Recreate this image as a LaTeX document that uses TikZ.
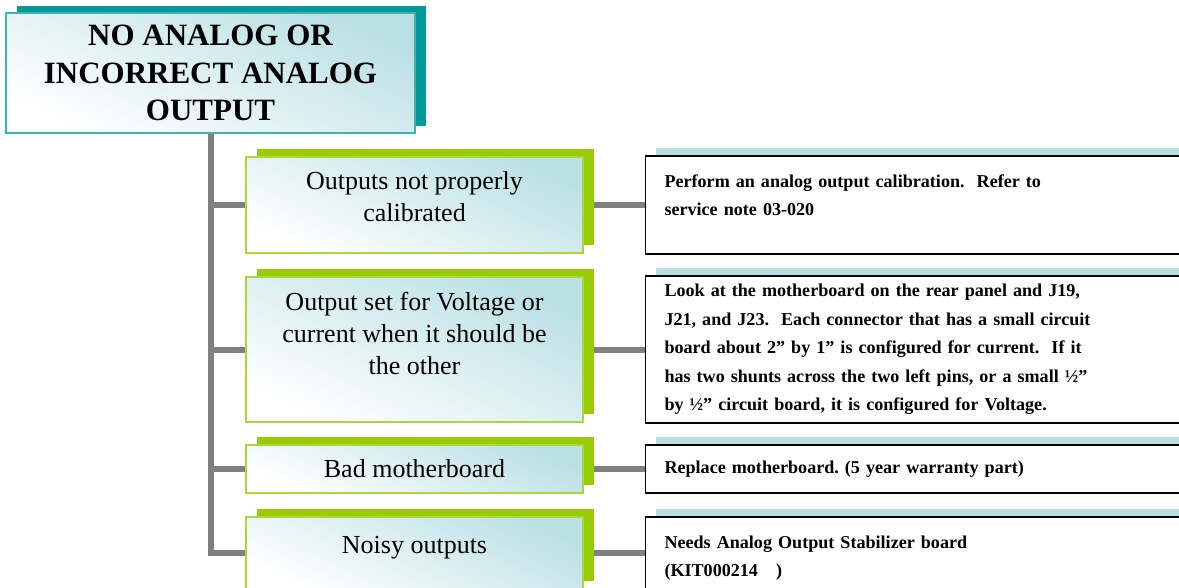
\documentclass[tikz,border=0pt]{standalone}
\usepackage{fontspec}
\setmainfont{Liberation Serif}
\usetikzlibrary{positioning,shadows,backgrounds}
\frenchspacing
\definecolor{headshadow}{RGB}{0,153,153}
\definecolor{headline}{RGB}{64,176,176}
\definecolor{causeshadow}{RGB}{153,204,0}
\definecolor{causeline}{RGB}{172,214,60}
\definecolor{fixshadow}{RGB}{184,223,226}
\definecolor{boxtint}{RGB}{186,224,228}
\definecolor{linkgray}{RGB}{128,128,128}

\begin{document}
\begin{tikzpicture}[x=1pt,y=-1pt,
  headbox/.style={draw=headline,line width=1.5pt,top color=boxtint,bottom color=white,shading angle=-25,
    minimum width=409pt,minimum height=120pt,align=center,font=\fontsize{31}{37.5}\selectfont\bfseries,
    drop shadow={shadow xshift=11pt,shadow yshift=7pt,fill=headshadow,opacity=1}},
  causebox/.style={draw=causeline,line width=1.5pt,top color=boxtint,bottom color=white,shading angle=-25,
    minimum width=337pt,align=center,font=\fontsize{26}{32}\selectfont,
    drop shadow={shadow xshift=11pt,shadow yshift=8.5pt,fill=causeshadow,opacity=1}},
  fixbox/.style={draw=black,line width=1.5pt,fill=white,text width=522pt,inner xsep=19pt,align=left,
    font=\fontsize{18.1}{28.5}\selectfont\bfseries,
    drop shadow={shadow xshift=10pt,shadow yshift=8pt,fill=fixshadow,opacity=1}},
  link/.style={draw=linkgray,line width=6pt}]
	\useasboundingbox (0,0) rectangle (1179,587);
	\clip (0,0) rectangle (1179,587);
	\node[headbox] (head) at (210.5,73) {NO ANALOG OR\\INCORRECT ANALOG\\OUTPUT};
	\node[causebox,minimum height=96pt,text depth=18pt] (calib) at (414.5,205) {Outputs not properly\\calibrated};
	\node[causebox,minimum height=145pt,text depth=33pt] (mode) at (414.5,349.5) {Output set for Voltage or\\current when it should be\\the other};
	\node[causebox,minimum height=48pt] (board) at (414.5,469) {Bad motherboard};
	\node[causebox,minimum height=72pt,text depth=17pt] (noise) at (414.5,553) {Noisy outputs};
	\node[fixbox,minimum height=98pt,text depth=48pt,right=61pt of calib] (recal) {Perform an analog output calibration.\ \ Refer to\\service note 03-020};
	\node[fixbox,minimum height=147pt,right=61pt of mode] (jumper) {Look at the motherboard on the rear panel and J19,\\J21, and J23.\ \ Each connector that has a small circuit\\board about 2” by 1” is configured for current.\ \ If it\\has two shunts across the two left pins, or a small ½”\\by ½” circuit board, it is configured for Voltage.};
	\node[fixbox,minimum height=48pt,right=61pt of board] (swap) {Replace motherboard. (5 year warranty part)};
	\node[fixbox,minimum height=72pt,text height=23pt,right=61pt of noise] (kit) {Needs Analog Output Stabilizer board\\(KIT000214\ \ \ )};
	\begin{scope}[on background layer]
	\path[link] (head.south) |- (calib.west) (head.south) |- (mode.west)
		(head.south) |- (board.west) (head.south) |- (noise.west);
	\path[link] (calib) -- (recal) (mode) -- (jumper) (board) -- (swap) (noise) -- (kit);
	\end{scope}
\end{tikzpicture}
\end{document}
